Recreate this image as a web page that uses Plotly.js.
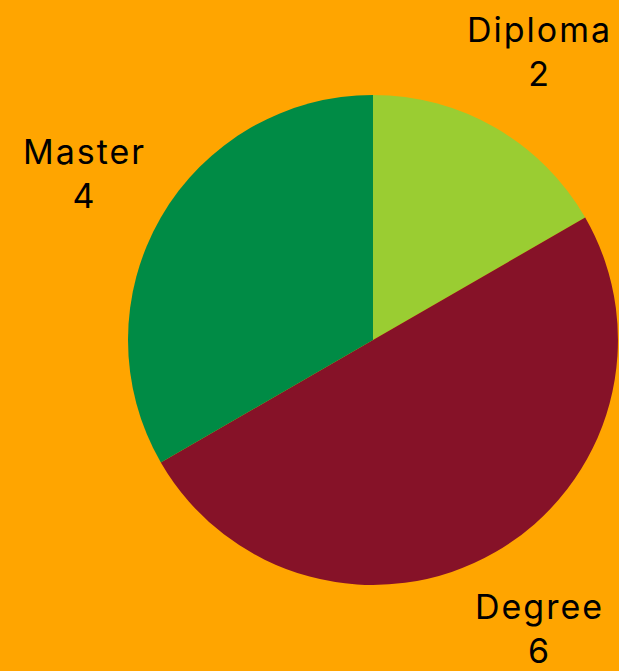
<!DOCTYPE html>
<html>
<head>
<script src="https://cdn.plot.ly/plotly-3.0.1.min.js"></script>
<style>
html,body{margin:0;padding:0;background:#FFA500;}
.annotation-text{letter-spacing:2px;}
</style>
</head>
<body>
<div id="chart" style="width:619px;height:671px;"></div>
<script>
const labels = ["Diploma", "Degree", "Master"];
const values = [2, 6, 4];
const colors = ["#9ACD32", "#861228", "#008B45"];

// label placement: radial, centred outside each slice (derived from the data)
const total = values.reduce((a, b) => a + b, 0);
const labelRadius = 1.36; // in units of the pie radius
let cum = 0;
const annotations = labels.map((lab, i) => {
  const mid = (cum + values[i] / 2) / total * 2 * Math.PI; // clockwise from 12 o'clock
  cum += values[i];
  return {
    xref: "paper", yref: "paper",
    x: 0.5 + 0.5 * labelRadius * Math.sin(mid),
    y: 0.5 + 0.5 * labelRadius * Math.cos(mid),
    xanchor: "center", yanchor: "middle",
    showarrow: false,
    text: lab + "<br>" + values[i],
    font: {family: "Inter, sans-serif", size: 34, color: "#000"}
  };
});

Plotly.newPlot("chart", [{
  type: "pie",
  labels: labels,
  values: values,
  sort: false,
  direction: "clockwise",
  marker: {colors: colors},
  textinfo: "none",
  showlegend: false,
  hoverinfo: "label+value"
}], {
  width: 619, height: 671,
  paper_bgcolor: "#FFA500",
  plot_bgcolor: "#FFA500",
  margin: {l: 128, r: 1, t: 95, b: 86},
  showlegend: false,
  annotations: annotations
}, {displayModeBar: false});
</script>
</body>
</html>
